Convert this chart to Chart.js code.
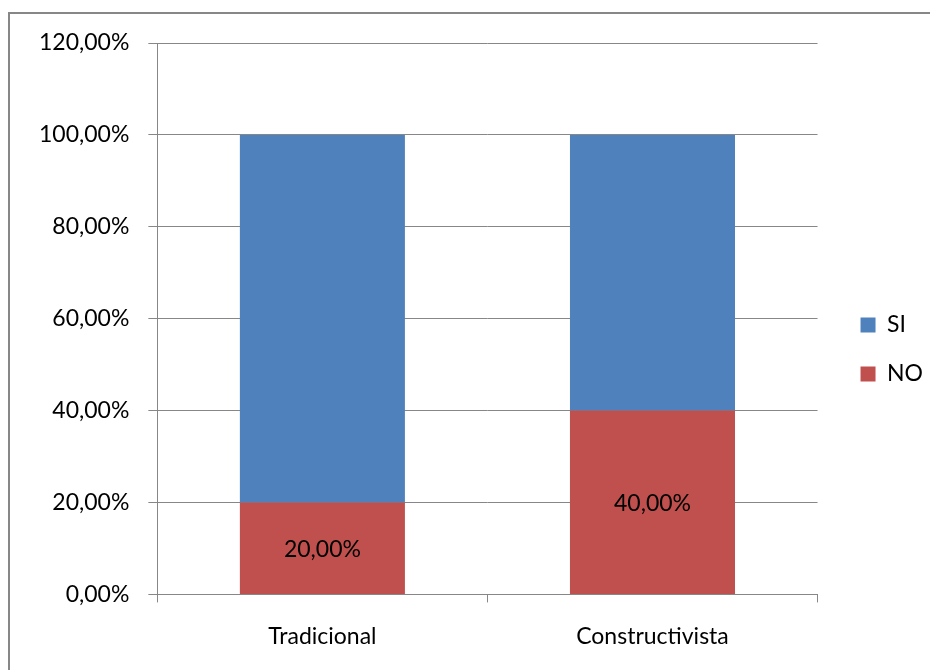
<!DOCTYPE html>
<html>
<head>
<meta charset="utf-8">
<script src="https://cdn.jsdelivr.net/npm/chart.js@4/dist/chart.umd.min.js"></script>
<style>
html,body{margin:0;padding:0;background:#fff;overflow:hidden;}
#frame{position:absolute;left:8px;top:12px;width:940px;height:700px;border:2px solid #878787;box-sizing:border-box;}
#wrap{position:absolute;left:0;top:0;width:930px;height:670px;}
</style>
</head>
<body>
<div id="frame"></div>
<div id="wrap"><canvas id="chart" width="930" height="670"></canvas></div>
<script>
// data
var categories = ["Tradicional", "Constructivista"];
var siValues = [0.80, 0.60];
var noValues = [0.20, 0.40];
var yTicks = [0, 0.2, 0.4, 0.6, 0.8, 1.0, 1.2];

function pct(v){
  return (v * 100).toFixed(2).replace(".", ",") + "%";
}

// labels inside the NO bars
var barLabels = {
  id: "barLabels",
  afterDatasetsDraw: function(chart){
    var ctx = chart.ctx;
    var meta = chart.getDatasetMeta(0);
    ctx.save();
    ctx.font = "23px Lato";
    ctx.fillStyle = "#000";
    ctx.textAlign = "center";
    ctx.textBaseline = "middle";
    meta.data.forEach(function(bar, i){
      ctx.fillText(pct(noValues[i]), bar.x, (bar.y + bar.base) / 2 + 1);
    });
    ctx.restore();
  }
};

// nudge the legend a little to the right and up
var legendShift = {
  id: "legendShift",
  afterLayout: function(chart){
    var lg = chart.legend;
    lg.left += 17; lg.right += 17;
    lg.top -= 7; lg.bottom -= 7;
  }
};

new Chart(document.getElementById("chart"), {
  type: "bar",
  data: {
    labels: categories,
    datasets: [
      {label: "NO", data: noValues, backgroundColor: "#C0504D"},
      {label: "SI", data: siValues, backgroundColor: "#4F81BD"}
    ]
  },
  options: {
    responsive: false,
    animation: false,
    layout: {padding: {left: 20, top: 43, right: 14, bottom: 0}},
    datasets: {bar: {categoryPercentage: 0.5, barPercentage: 1}},
    plugins: {
      legend: {
        position: "right",
        reverse: true,
        labels: {boxWidth: 15, boxHeight: 15, padding: 26, color: "#000", font: {family: "Lato", size: 23}}
      },
      tooltip: {enabled: false}
    },
    scales: {
      x: {
        stacked: true,
        grid: {offset: true, drawOnChartArea: false, drawTicks: true, tickLength: 8, color: "#878787", lineWidth: 1},
        border: {display: false},
        ticks: {color: "#000", font: {family: "Lato", size: 23}, padding: 20}
      },
      y: {
        stacked: true,
        min: 0,
        max: 1.2,
        afterBuildTicks: function(axis){ axis.ticks = yTicks.map(function(v){ return {value: v}; }); },
        grid: {color: "#878787", lineWidth: 1, tickLength: 9},
        border: {color: "#878787", width: 1},
        ticks: {color: "#000", font: {family: "Lato", size: 23}, padding: 19, callback: function(v){ return pct(v); }}
      }
    }
  },
  plugins: [barLabels, legendShift]
});
</script>
</body>
</html>
